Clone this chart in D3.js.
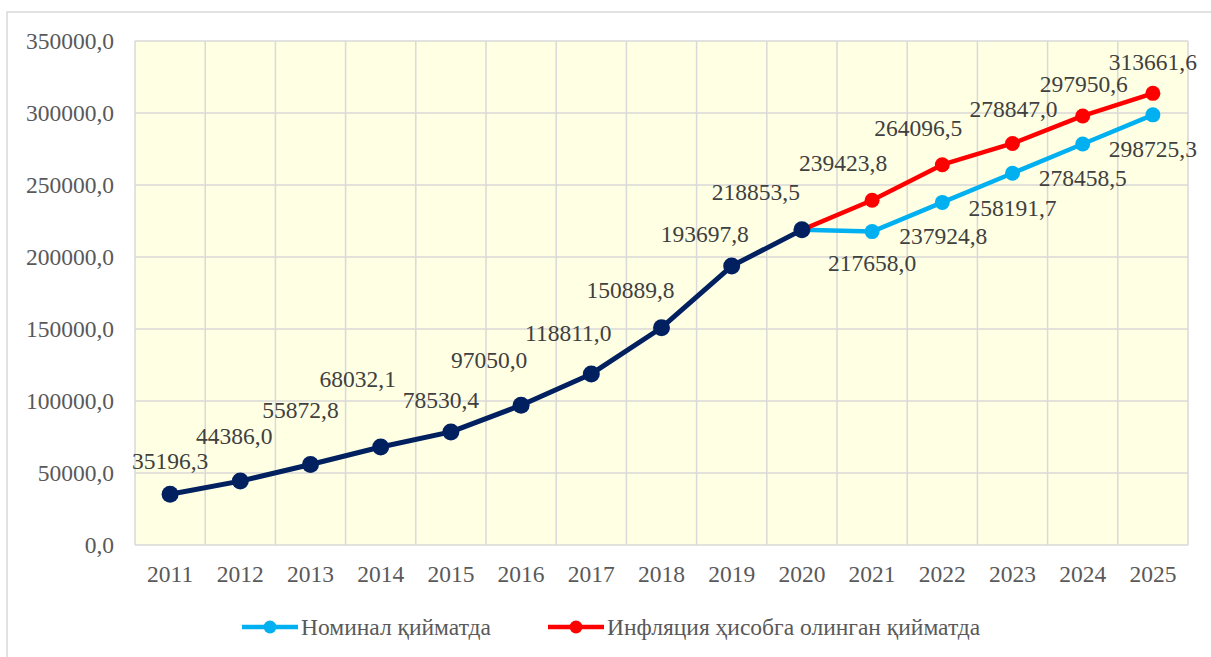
<!DOCTYPE html>
<html>
<head>
<meta charset="utf-8">
<script src="https://cdn.jsdelivr.net/npm/d3@7"></script>
<style>
  body { margin: 0; background: #fff; }
  svg text { font-family: "Liberation Serif", "Times New Roman", "DejaVu Serif", serif; }
  .grid line { stroke: #d9d9d9; stroke-width: 1.5; }
  .tick-label { fill: #595959; font-size: 23.5px; }
  .data-label { fill: #404040; font-size: 23.5px; }
  .legend-text { fill: #595959; font-size: 23.5px; }
</style>
</head>
<body>
<svg width="1211" height="657"></svg>
<script>
// data
const years = ['2011','2012','2013','2014','2015','2016','2017','2018','2019','2020','2021','2022','2023','2024','2025']
const baseYears = years.slice(0, 10)
const forecastYears = years.slice(9)
const baseValues = [35196.3, 44386.0, 55872.8, 68032.1, 78530.4, 97050.0, 118811.0, 150889.8, 193697.8, 218853.5]
const nominalValues = [218853.5, 217658.0, 237924.8, 258191.7, 278458.5, 298725.3]
const inflationValues = [218853.5, 239423.8, 264096.5, 278847.0, 297950.6, 313661.6]
const yTicks = [0, 50000, 100000, 150000, 200000, 250000, 300000, 350000]
const seriesNames = ['Номинал қийматда', 'Инфляция ҳисобга олинган қийматда']

// label nudges [dx, dy] relative to point (text baseline)
const baseNudge = [[0,-25],[-6,-37],[-10,-47],[-23,-60],[-10,-24],[-32,-37],[-23,-33],[-31,-30],[-27,-24],[-46,-30]]
const nominalNudge = [null,[0,39],[1,42],[0,43],[0,42],[0,42]]
const inflationNudge = [null,[-29,-29],[-24,-29],[1,-26],[1,-24],[0,-23]]

const svg = d3.select('svg')
const plotLeft = 135, plotRight = 1188, plotTop = 41, plotBottom = 545

const fmt = v => v.toFixed(1).replace('.', ',')

const x = d3.scaleBand().domain(years).range([plotLeft, plotRight])
const y = d3.scaleLinear().domain([0, 350000]).range([plotBottom, plotTop])
const cx = d => x(d) + x.bandwidth() / 2

// outer frame
svg.append('rect')
  .attr('x', 7).attr('y', 12).attr('width', 1300).attr('height', 800)
  .attr('fill', 'none').attr('stroke', '#d9d9d9').attr('stroke-width', 1.5)

// plot background
svg.append('rect')
  .attr('x', plotLeft).attr('y', plotTop).attr('width', plotRight - plotLeft).attr('height', plotBottom - plotTop)
  .attr('fill', '#ffffe3')

const grid = svg.append('g').attr('class', 'grid')
grid.selectAll('.h').data(yTicks).enter().append('line')
  .attr('x1', plotLeft).attr('x2', plotRight)
  .attr('y1', d => y(d)).attr('y2', d => y(d))
grid.selectAll('.v').data(years.concat(['end'])).enter().append('line')
  .attr('x1', (d, i) => plotLeft + i * x.bandwidth())
  .attr('x2', (d, i) => plotLeft + i * x.bandwidth())
  .attr('y1', plotTop).attr('y2', plotBottom)

// y labels
svg.append('g').selectAll('text').data(yTicks).enter().append('text')
  .attr('class', 'tick-label')
  .attr('text-anchor', 'end')
  .attr('x', 114)
  .attr('y', d => y(d) + 8)
  .text(d => fmt(d))

// x labels
svg.append('g').selectAll('text').data(years).enter().append('text')
  .attr('class', 'tick-label')
  .attr('text-anchor', 'middle')
  .attr('x', d => cx(d))
  .attr('y', 582)
  .text(d => d)

const line = d3.line().x(d => cx(d[0])).y(d => y(d[1]))

const drawSeries = (cats, vals, color, width, r, nudge) => {
  const pts = cats.map((c, i) => [c, vals[i]])
  const g = svg.append('g')
  g.append('path').datum(pts)
    .attr('d', line)
    .attr('fill', 'none')
    .attr('stroke', color)
    .attr('stroke-width', width)
    .attr('stroke-linejoin', 'round')
  g.selectAll('circle').data(pts).enter().append('circle')
    .attr('cx', d => cx(d[0]))
    .attr('cy', d => y(d[1]))
    .attr('r', r)
    .attr('fill', color)
  g.selectAll('text').data(pts.filter((d, i) => nudge[i])).enter().append('text')
    .attr('class', 'data-label')
    .attr('text-anchor', 'middle')
    .attr('x', d => cx(d[0]) + nudge[pts.indexOf(d)][0])
    .attr('y', d => y(d[1]) + nudge[pts.indexOf(d)][1])
    .text(d => fmt(d[1]))
}

drawSeries(forecastYears, nominalValues, '#00b0f0', 4.5, 7.5, nominalNudge)
drawSeries(forecastYears, inflationValues, '#ff0000', 4.5, 7.5, inflationNudge)
drawSeries(baseYears, baseValues, '#002060', 5, 8.5, baseNudge)

// legend
const legend = [
  { name: seriesNames[0], color: '#00b0f0', x0: 242 },
  { name: seriesNames[1], color: '#ff0000', x0: 548 }
]
const lg = svg.append('g').selectAll('g').data(legend).enter().append('g')
lg.append('line')
  .attr('x1', d => d.x0).attr('x2', d => d.x0 + 56)
  .attr('y1', 627).attr('y2', 627)
  .attr('stroke', d => d.color).attr('stroke-width', 4.5)
lg.append('circle')
  .attr('cx', d => d.x0 + 28).attr('cy', 627).attr('r', 6.5)
  .attr('fill', d => d.color)
lg.append('text')
  .attr('class', 'legend-text')
  .attr('x', d => d.x0 + 59)
  .attr('y', 635)
  .text(d => d.name)
</script>
</body>
</html>
